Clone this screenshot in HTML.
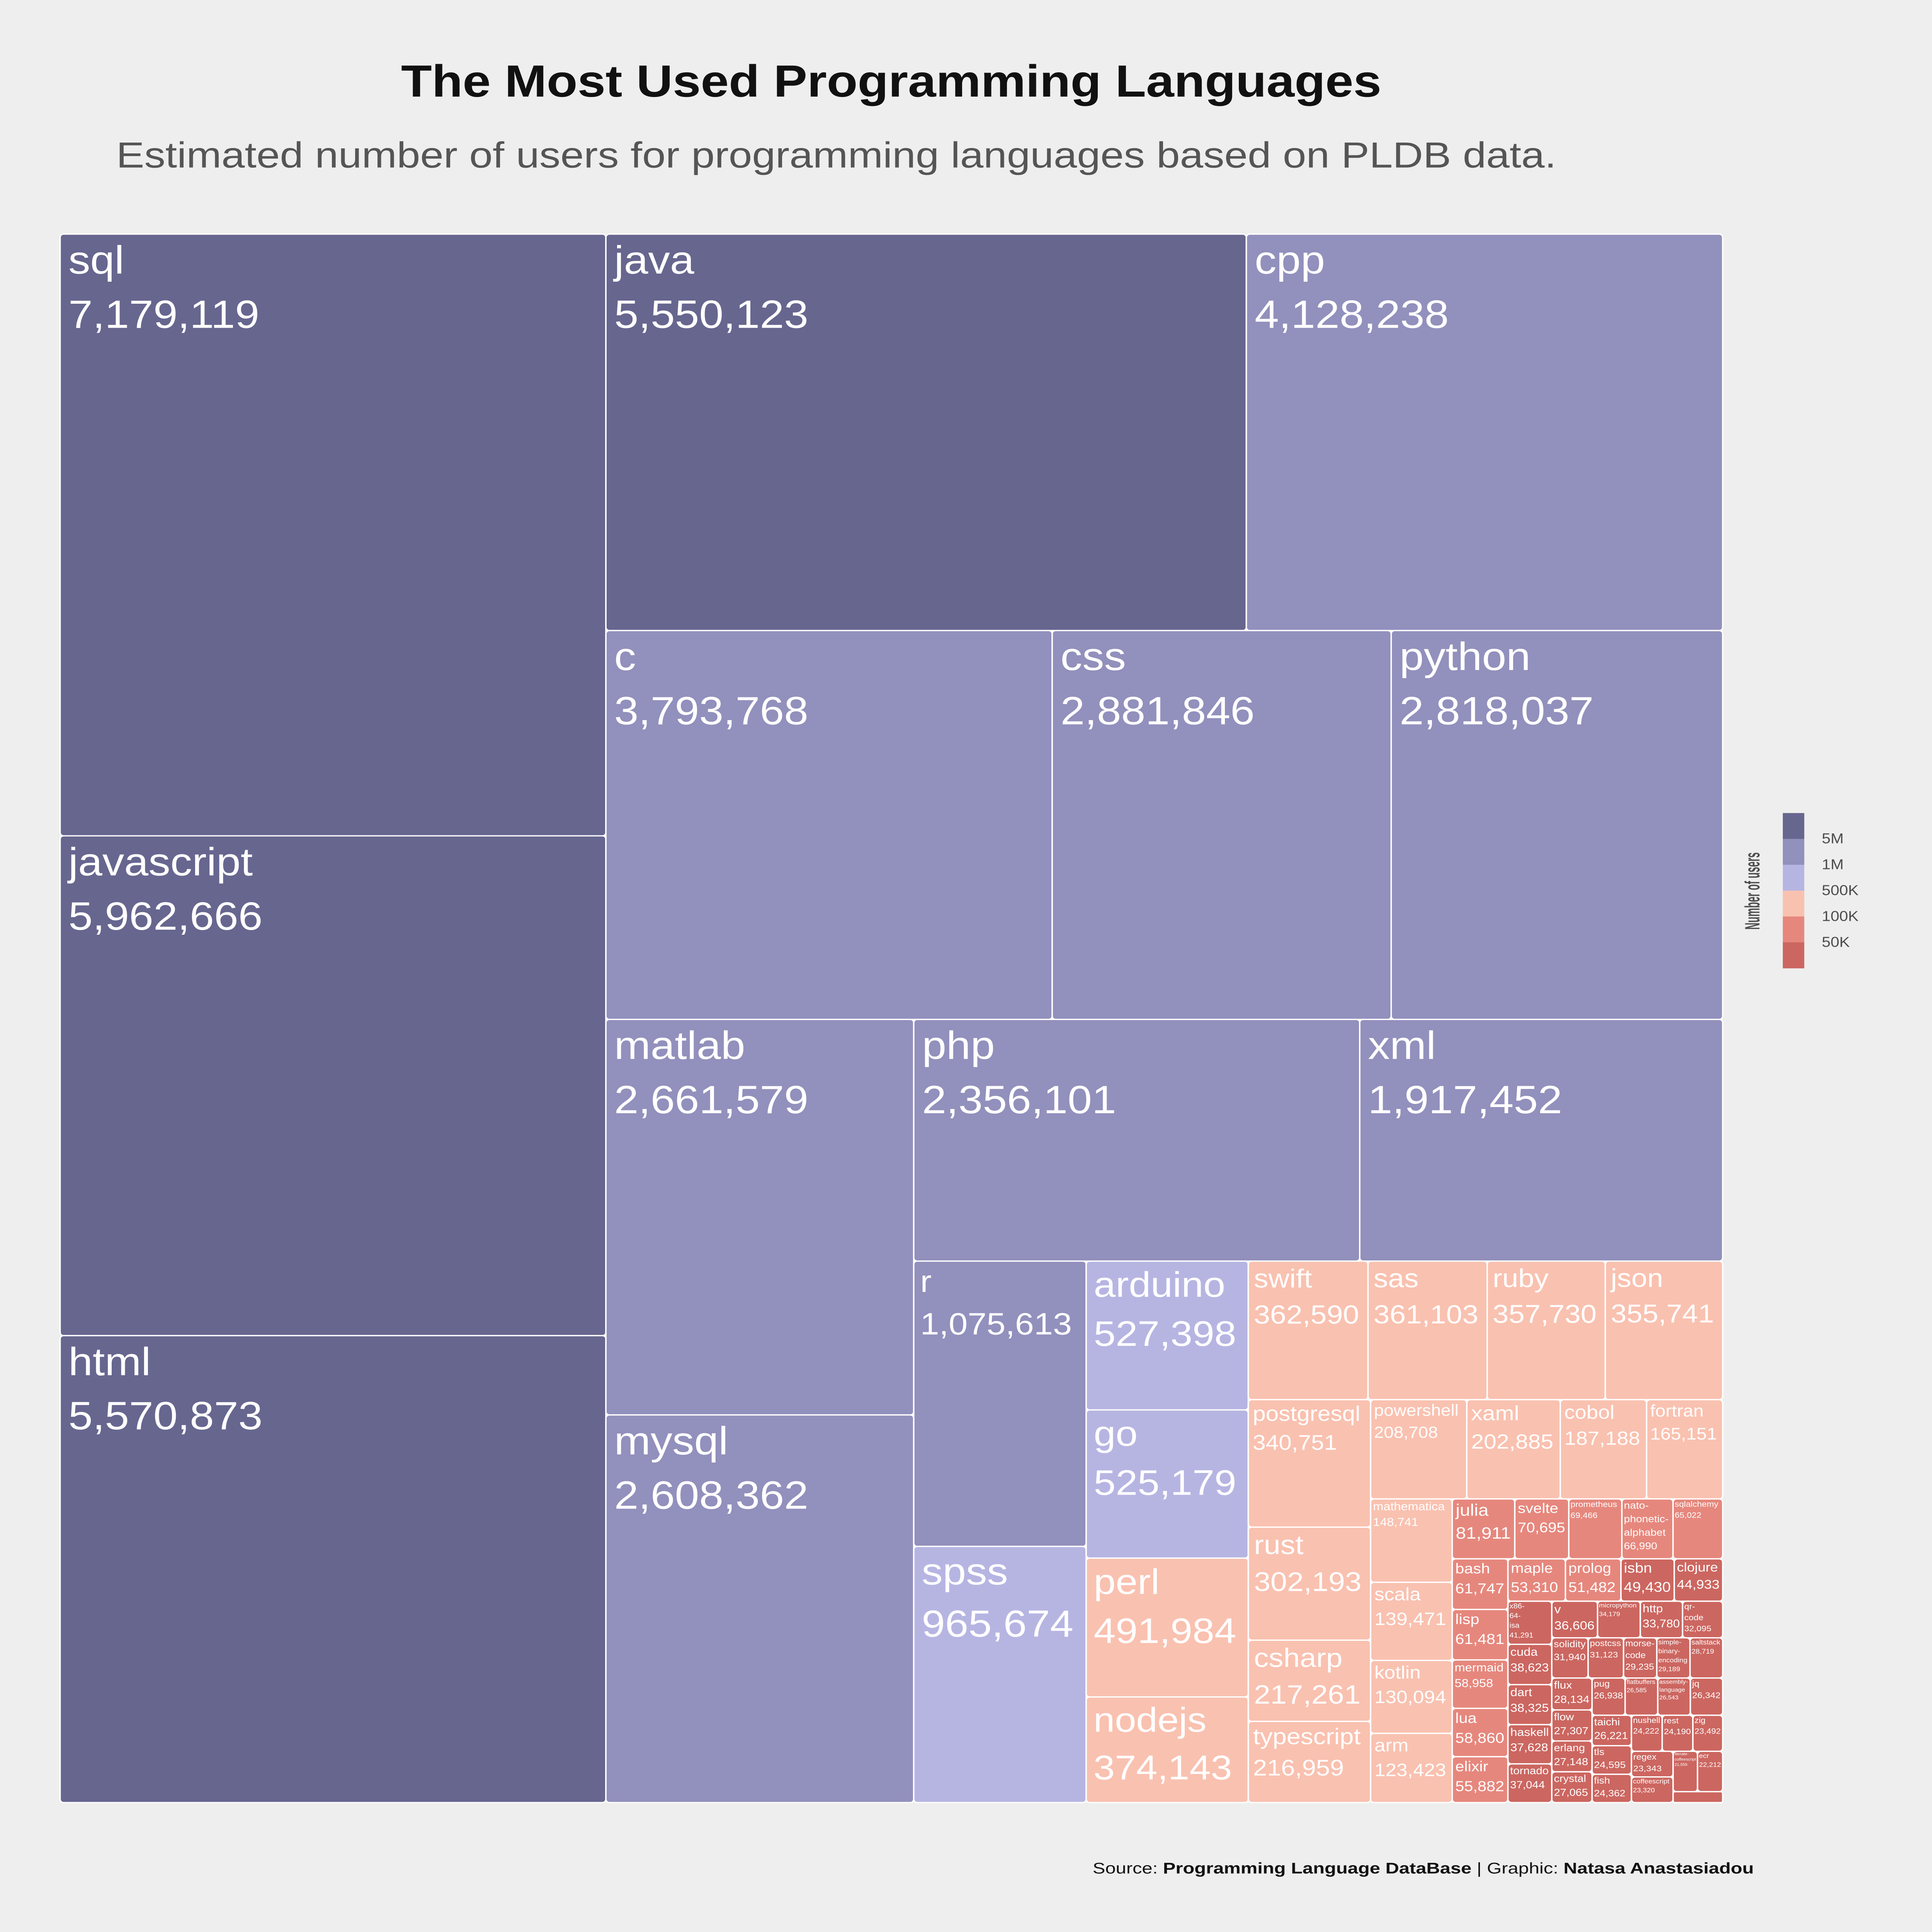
<!DOCTYPE html>
<html><head><meta charset="utf-8">
<style>
html,body{margin:0;padding:0;background:#eeeeee;width:100%;height:100%;overflow:hidden;}
svg{display:block;width:100vw;height:100vh;}
text{font-family:"Liberation Sans",sans-serif;}
</style></head>
<body>
<svg id="chart" viewBox="0 0 5400 6000" preserveAspectRatio="none" xmlns="http://www.w3.org/2000/svg">
<rect x="0" y="0" width="5400" height="6000" fill="#eeeeee"/>
<text x="2491" y="300" text-anchor="middle" font-size="140" font-weight="bold" fill="#111" textLength="2740" lengthAdjust="spacingAndGlyphs">The Most Used Programming Languages</text>
<text x="325" y="520" font-size="112" fill="#555" textLength="4025" lengthAdjust="spacingAndGlyphs">Estimated number of users for programming languages based on PLDB data.</text>
<g id="tree"></g>
<g id="legend">
<text transform="translate(4918,2767) rotate(-90)" text-anchor="middle" font-size="58" font-weight="bold" fill="#4d4d4d" textLength="240" lengthAdjust="spacingAndGlyphs">Number of users</text>
</g>
<text x="3054" y="5818" font-size="48" fill="#111" textLength="1848" lengthAdjust="spacingAndGlyphs">Source:  <tspan font-weight="bold">Programming Language DataBase</tspan> | Graphic: <tspan font-weight="bold">Natasa Anastasiadou</tspan></text>
</svg>
<script>
// ---- data ----
const languages = ["sql","javascript","html","java","cpp","c","css","python","matlab","mysql","php","xml","r","spss","arduino","go","perl","nodejs","swift","sas","ruby","json","postgresql","rust","csharp","typescript","powershell","xaml","cobol","fortran","mathematica","scala","kotlin","arm","julia","svelte","prometheus","nato-phonetic-alphabet","sqlalchemy","bash","lisp","mermaid","lua","elixir","maple","prolog","isbn","clojure","x86-64-isa","cuda","dart","haskell","tornado","v","micropython","http","qr-code","solidity","postcss","morse-code","simple-binary-encoding","saltstack","flux","flow","erlang","crystal","pug","flatbuffers","assembly-language","jq","taichi","tls","fish","nushell","rest","zig","regex","coffeescript","literate-coffeescript","ecr","other"];
const users = [7179119,5962666,5570873,5550123,4128238,3793768,2881846,2818037,2661579,2608362,2356101,1917452,1075613,965674,527398,525179,491984,374143,362590,361103,357730,355741,340751,302193,217261,216959,208708,202885,187188,165151,148741,139471,130094,123423,81911,70695,69466,66990,65022,61747,61481,58958,58860,55882,53310,51482,49430,44933,41291,38623,38325,37628,37044,36606,34179,33780,32095,31940,31123,29235,29189,28719,28134,27307,27148,27065,26938,26585,26543,26342,26221,24595,24362,24222,24190,23492,23343,23320,21555,22212,11800];
const colorBreaks = [50000,100000,500000,1000000,5000000];
const colorFills = ["#cc6660","#e6877d","#f9c1b0","#b6b5e2","#9290bc","#67668f"];
const legendLabels = ["5M","1M","500K","100K","50K"];

// layout structure (h = row, v = column), built bottom-up
function H(){return {d:'h',c:Array.prototype.slice.call(arguments)};}
function V(){return {d:'v',c:Array.prototype.slice.call(arguments)};}
const nU = V(H("literate-coffeescript","ecr"),"other");
const nT = H(V("regex","coffeescript"),nU);
const nS = V(H("nushell","rest","zig"),nT);
const nR = H(V("taichi","tls","fish"),nS);
const nQ = V(H("pug","flatbuffers","assembly-language","jq"),nR);
const nP = H(V("flux","flow","erlang","crystal"),nQ);
const nO = V(H("v","micropython","http","qr-code"),H("solidity","postcss","morse-code","simple-binary-encoding","saltstack"),nP);
const nN = H(V("x86-64-isa","cuda","dart","haskell","tornado"),nO);
const nM = V(H("maple","prolog","isbn","clojure"),nN);
const nL = H(V("bash","lisp","mermaid","lua","elixir"),nM);
const nK = V(H("julia","svelte","prometheus","nato-phonetic-alphabet","sqlalchemy"),nL);
const nJ = H(V("mathematica","scala","kotlin","arm"),nK);
const nI = V(H("powershell","xaml","cobol","fortran"),nJ);
const nG = H(V("postgresql","rust","csharp","typescript"),nI);
const nF = V(H("swift","sas","ruby","json"),nG);
const nE = H(V("r","spss"),V("arduino","go","perl","nodejs"),nF);
const nD = V(H("php","xml"),nE);
const nC = H(V("matlab","mysql"),nD);
const nB = V(H("java","cpp"),H("c","css","python"),nC);
const structure = H(V("sql","javascript","html"),nB);

// ---- scales ----
const X0=168,X1=4815,Y0=727,Y1=5598;
const valOf={}; languages.forEach(function(n,i){valOf[n]=users[i];});
function total(node){return typeof node==='string'?valOf[node]:node.c.reduce(function(s,k){return s+total(k);},0);}
function colorScale(v){let i=0;while(i<colorBreaks.length&&v>=colorBreaks[i])i++;return colorFills[i];}
const NS="http://www.w3.org/2000/svg";
const tree=document.getElementById('tree');
let cv=null;
try{cv=document.createElement('canvas').getContext('2d');}catch(e){cv=null;}
function tw(s,fs){
  if(cv){cv.font=fs+'px "Liberation Sans", sans-serif';return cv.measureText(s).width;}
  return s.length*0.56*fs;
}
function fmt(v){return String(v).replace(/\B(?=(\d{3})+(?!\d))/g,',');}

function leaf(name,x,y,w,h){
  const v=valOf[name];
  const g=document.createElementNS(NS,'g');
  
  
  const r=document.createElementNS(NS,'rect');
  r.setAttribute('x',x);r.setAttribute('y',y);r.setAttribute('width',Math.max(0,w));r.setAttribute('height',Math.max(0,h));
  r.setAttribute('rx',Math.min(10,w/6,h/6));r.setAttribute('fill',colorScale(v));
  r.setAttribute('stroke','#ffffff');r.setAttribute('stroke-width','4');
  
  
  g.appendChild(r);
  if(name!=='other'){
    let lines=name.indexOf('-')>=0?name.split('-').map(function(p,i,a){return i<a.length-1?p+'-':p;}):[name];
    lines.push(fmt(v));
    let maxw=Math.max.apply(null,lines.map(function(l){return tw(l,100);}))/100;
    let fs=Math.min(122,(w*0.88)/maxw,(h*0.85)/(lines.length*1.3));
    if(fs>=6){
      const pad=Math.max(4,fs*0.19);
      const t=document.createElementNS(NS,'text');
      t.setAttribute('font-size',fs.toFixed(1));t.setAttribute('fill','#ffffff');
      
      
      lines.forEach(function(l,i){const s=document.createElementNS(NS,'tspan');
        s.setAttribute('x',x+pad);s.setAttribute('y',y+pad*0.3+fs*0.95+i*fs*1.38);s.textContent=l;t.appendChild(s);});
      g.appendChild(t);
    }
  }
  tree.appendChild(g);
}
function layout(node,x,y,w,h){
  if(typeof node==='string'){leaf(node,x,y,w,h);return;}
  const T=total(node);let off=0;
  node.c.forEach(function(k){const f=total(k)/T;
    if(node.d==='h'){layout(k,x+off,y,w*f,h);off+=w*f;}
    else{layout(k,x,y+off,w,h*f);off+=h*f;}});
}
try{ layout(structure,X0,Y0,X1-X0,Y1-Y0); }catch(e){}

// legend
const lg=document.getElementById('legend');
const bh=80.3, lx=4983, ly=2525;
colorFills.slice().reverse().forEach(function(c,i){
  const r=document.createElementNS(NS,'rect');
  r.setAttribute('x',lx);r.setAttribute('y',ly+i*bh);r.setAttribute('width',60);r.setAttribute('height',bh+0.5);r.setAttribute('fill',c);
  
  
  lg.appendChild(r);
});
legendLabels.forEach(function(l,i){
  const t=document.createElementNS(NS,'text');
  t.setAttribute('x',5092);t.setAttribute('y',ly+(i+1)*bh+14);t.setAttribute('font-size','44');t.setAttribute('fill','#4d4d4d');
  t.textContent=l;
  
  
  lg.appendChild(t);
});
</script>
</body></html>
